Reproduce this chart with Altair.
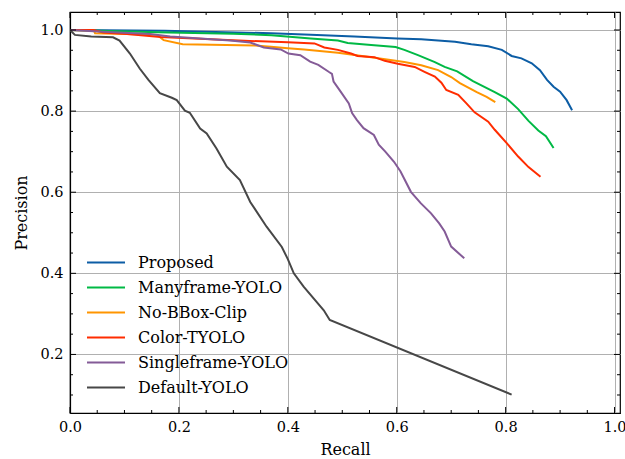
import altair as alt
import pandas as pd

# ---------------- data ----------------
series_names = ["Proposed", "Manyframe-YOLO", "No-BBox-Clip", "Color-TYOLO",
                "Singleframe-YOLO", "Default-YOLO"]
series_colors = ["#0C5DA5", "#00B945", "#FF9500", "#FF2C00", "#845B97", "#474747"]

proposed_recall = [0.0, 0.174, 0.369, 0.442, 0.522, 0.601, 0.645, 0.676, 0.707, 0.737,
                   0.768, 0.793, 0.811, 0.829, 0.848, 0.863, 0.876, 0.888, 0.900, 0.912, 0.922]
proposed_precision = [1.0, 0.998, 0.992, 0.988, 0.984, 0.979, 0.977, 0.974, 0.971, 0.965,
                      0.960, 0.951, 0.936, 0.930, 0.918, 0.901, 0.877, 0.860, 0.848, 0.827, 0.802]

manyframe_recall = [0.0, 0.18, 0.30, 0.37, 0.442, 0.492, 0.51, 0.553, 0.598, 0.614, 0.639,
                    0.67, 0.688, 0.711, 0.74, 0.78, 0.802, 0.823, 0.842, 0.86, 0.874, 0.888]
manyframe_precision = [1.0, 0.994, 0.991, 0.987, 0.979, 0.974, 0.968, 0.963, 0.958, 0.951, 0.938,
                       0.921, 0.909, 0.898, 0.874, 0.847, 0.831, 0.805, 0.776, 0.752, 0.738, 0.709]

nobbox_recall = [0.0, 0.044, 0.046, 0.16, 0.172, 0.207, 0.34, 0.369, 0.40, 0.43, 0.492,
                 0.553, 0.614, 0.645, 0.676, 0.70, 0.716, 0.747, 0.765, 0.781]
nobbox_precision = [1.0, 0.998, 0.992, 0.988, 0.975, 0.965, 0.962, 0.959, 0.955, 0.952, 0.944,
                    0.933, 0.921, 0.913, 0.901, 0.884, 0.869, 0.847, 0.835, 0.822]

color_recall = [0.0, 0.043, 0.061, 0.105, 0.166, 0.33, 0.40, 0.449, 0.467, 0.492, 0.516,
                0.528, 0.559, 0.578, 0.602, 0.633, 0.651, 0.67, 0.682, 0.691, 0.713, 0.728,
                0.743, 0.768, 0.78, 0.802, 0.823, 0.842, 0.864]
color_precision = [1.0, 1.0, 0.994, 0.99, 0.983, 0.973, 0.97, 0.967, 0.957, 0.951, 0.942,
                   0.936, 0.933, 0.924, 0.917, 0.909, 0.897, 0.885, 0.87, 0.852, 0.84, 0.819,
                   0.797, 0.774, 0.754, 0.721, 0.688, 0.662, 0.638]

single_recall = [0.0, 0.061, 0.147, 0.184, 0.294, 0.331, 0.356, 0.387, 0.401, 0.423, 0.441,
                 0.456, 0.475, 0.481, 0.484, 0.497, 0.512, 0.518, 0.527, 0.539, 0.558, 0.567,
                 0.579, 0.595, 0.607, 0.626, 0.644, 0.663, 0.678, 0.688, 0.70, 0.724]
single_precision = [1.0, 0.996, 0.99, 0.984, 0.974, 0.969, 0.957, 0.952, 0.942, 0.938, 0.922,
                    0.914, 0.897, 0.892, 0.873, 0.848, 0.819, 0.795, 0.778, 0.758, 0.741, 0.717,
                    0.70, 0.675, 0.651, 0.601, 0.573, 0.548, 0.523, 0.503, 0.466, 0.437]

default_recall = [0.0, 0.009, 0.039, 0.079, 0.091, 0.11, 0.128, 0.144, 0.165, 0.187, 0.196,
                  0.211, 0.22, 0.239, 0.251, 0.269, 0.288, 0.312, 0.331, 0.361, 0.389, 0.40,
                  0.411, 0.429, 0.466, 0.477, 0.811]
default_precision = [1.0, 0.988, 0.984, 0.982, 0.974, 0.942, 0.905, 0.877, 0.844, 0.833, 0.827,
                     0.801, 0.796, 0.757, 0.745, 0.708, 0.663, 0.63, 0.576, 0.515, 0.465, 0.435,
                     0.40, 0.367, 0.309, 0.285, 0.101]

x_major = [0.0, 0.2, 0.4, 0.6, 0.8, 1.0]
x_minor = [0.05, 0.1, 0.15, 0.25, 0.3, 0.35, 0.45, 0.5, 0.55, 0.65, 0.7, 0.75, 0.85, 0.9, 0.95]
y_major = [0.2, 0.4, 0.6, 0.8, 1.0]
y_minor = [0.1, 0.15, 0.25, 0.3, 0.35, 0.45, 0.5, 0.55, 0.65, 0.7, 0.75, 0.85, 0.9, 0.95]

x_domain = [0.0, 1.01]
y_domain = [0.0556, 1.0444]

# ---------------- table ----------------
all_series = [
    (proposed_recall, proposed_precision),
    (manyframe_recall, manyframe_precision),
    (nobbox_recall, nobbox_precision),
    (color_recall, color_precision),
    (single_recall, single_precision),
    (default_recall, default_precision),
]
rows = []
for name, (rec, prec) in zip(series_names, all_series):
    for i, (r, p) in enumerate(zip(rec, prec)):
        rows.append({"method": name, "recall": r, "precision": p, "idx": i})
df = pd.DataFrame(rows)

W, H = 550, 401
FONT = "DejaVu Serif"
xscale = alt.Scale(domain=x_domain, nice=False, zero=False)
yscale = alt.Scale(domain=y_domain, nice=False, zero=False)
cscale = alt.Scale(domain=series_names, range=series_colors)

x_axis = alt.Axis(title="Recall", values=x_major, format=".1f", grid=True, ticks=False,
                  labelPadding=7, titlePadding=8, labelFontSize=14.5, titleFontSize=16,
                  labelFlush=False)
y_axis = alt.Axis(title="Precision", values=y_major, format=".1f", grid=True, ticks=False,
                  labelPadding=7, titlePadding=10, labelFontSize=14.5, titleFontSize=16)

legend = alt.Legend(orient="none", legendX=16, legendY=238, title=None,
                    symbolType="stroke", symbolSize=1444, symbolStrokeWidth=2,
                    labelFont=FONT, labelFontSize=16, labelColor="black",
                    labelOffset=12, rowPadding=0, clipHeight=25, padding=0)

layers = []
for k, name in enumerate(series_names):
    layer = alt.Chart(df).transform_filter(alt.datum.method == name).mark_line(
        strokeWidth=2, clip=True
    ).encode(
        x=alt.X("recall:Q", scale=xscale, axis=x_axis),
        y=alt.Y("precision:Q", scale=yscale, axis=y_axis),
        color=alt.Color("method:N", scale=cscale, legend=legend),
        order="idx:Q",
    )
    layers.append(layer)

# inward ticks on all four sides
xmaj_df = pd.DataFrame({"recall": x_major})
xmin_df = pd.DataFrame({"recall": x_minor})
ymaj_df = pd.DataFrame({"precision": y_major})
ymin_df = pd.DataFrame({"precision": y_minor})
MAJ, MIN = 6, 3
tick_layers = []
for d, ln in ((xmaj_df, MAJ), (xmin_df, MIN)):
    base = alt.Chart(d).mark_rule(color="black", strokeWidth=1)
    tick_layers.append(base.encode(x=alt.X("recall:Q", scale=xscale, axis=x_axis),
                                   y=alt.value(H), y2=alt.value(H - ln)))
    tick_layers.append(base.encode(x=alt.X("recall:Q", scale=xscale, axis=x_axis),
                                   y=alt.value(0), y2=alt.value(ln)))
for d, ln in ((ymaj_df, MAJ), (ymin_df, MIN)):
    base = alt.Chart(d).mark_rule(color="black", strokeWidth=1)
    tick_layers.append(base.encode(y=alt.Y("precision:Q", scale=yscale, axis=y_axis),
                                   x=alt.value(0), x2=alt.value(ln)))
    tick_layers.append(base.encode(y=alt.Y("precision:Q", scale=yscale, axis=y_axis),
                                   x=alt.value(W), x2=alt.value(W - ln)))

chart = alt.layer(*layers, *tick_layers).properties(
    width=W, height=H,
    autosize=alt.AutoSizeParams(type="none"),
    padding={"left": 70, "top": 12, "right": 5, "bottom": 46},
).configure(
    font=FONT,
).configure_view(
    stroke="black", strokeWidth=1.2,
).configure_axis(
    labelFont=FONT, titleFont=FONT, labelColor="black", titleColor="black",
    titleFontWeight="normal", domainColor="black", domainWidth=1.2,
    gridColor="#b0b0b0", gridWidth=1, gridOpacity=1,
)

chart.save("out.html", embed_options={"renderer": "svg", "actions": False})
